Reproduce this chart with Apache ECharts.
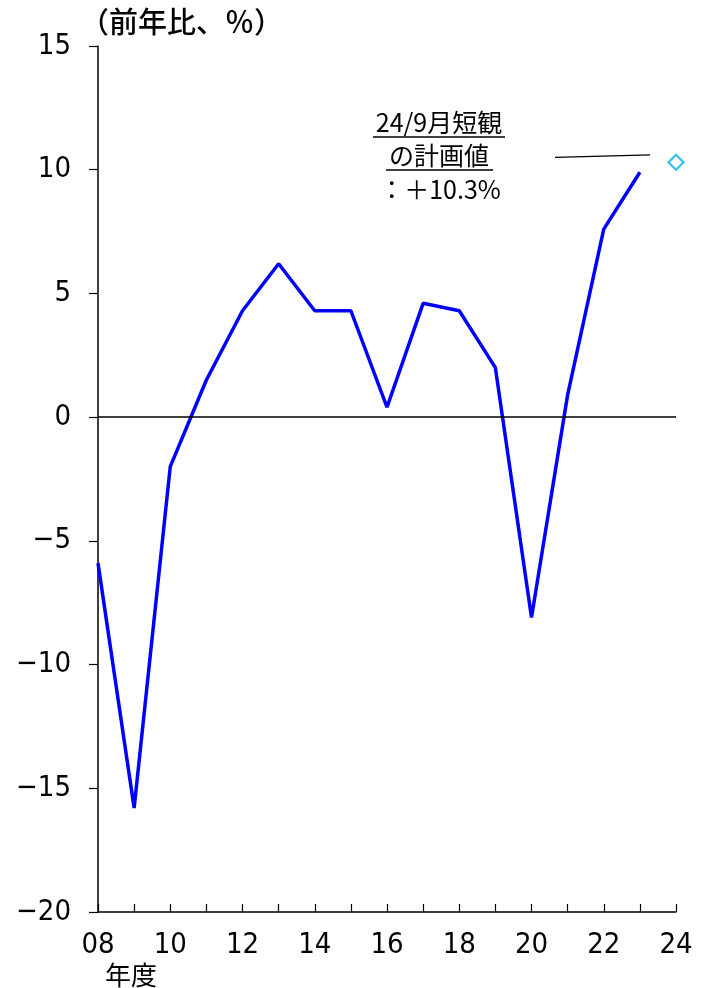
<!DOCTYPE html>
<html><head><meta charset="utf-8">
<script src="https://cdn.jsdelivr.net/npm/echarts@6/dist/echarts.min.js"></script>
<style>html,body{margin:0;padding:0;background:#fff}#c{width:713px;height:988px}</style>
</head><body><div id="c"></div>
<script>
const years = [2008,2009,2010,2011,2012,2013,2014,2015,2016,2017,2018,2019,2020,2021,2022,2023];
const values = [-5.9,-15.8,-2.0,1.5,4.3,6.2,4.3,4.3,0.4,4.6,4.3,2.0,-8.1,0.9,7.6,9.9];
const planYear = 2024;
const planValue = 10.3;
const yTicks = [-20,-15,-10,-5,0,5,10,15];
const xTickLabels = ['08','10','12','14','16','18','20','22','24'];

const numFont = '"Liberation Sans Narrow","DejaVu Sans Condensed",sans-serif';
const jpFont = '"Noto Sans CJK JP",sans-serif';
const chart = echarts.init(document.getElementById('c'));
chart.setOption({
  animation:false,
  grid:{left:98,right:37,top:46,bottom:76},
  xAxis:{type:'value',min:2008,max:2024,interval:1,
    axisLine:{onZero:false,lineStyle:{color:'#000',width:1.5}},
    axisTick:{inside:true,length:8,lineStyle:{color:'#000',width:1.2}},
    splitLine:{show:false},
    axisLabel:{margin:19,fontSize:29,color:'#000',fontFamily:numFont,
      formatter:v=>{const s=String(v%100).padStart(2,'0');return xTickLabels.includes(s)&&v%2===0?s:'';}}
  },
  yAxis:{type:'value',min:-20,max:15,interval:5,
    axisLine:{show:true,onZero:false,lineStyle:{color:'#000',width:1.5}},
    axisTick:{show:true,inside:false,length:9,lineStyle:{color:'#000',width:1.2}},
    splitLine:{show:false},
    axisLabel:{margin:27,fontSize:29,color:'#000',fontFamily:numFont,
      formatter:v=>yTicks.includes(v)?(v<0?'\u2212'+Math.abs(v):String(v)):''}
  },
  series:[
    {type:'line',data:years.map((y,i)=>[y,values[i]]),showSymbol:false,symbol:'none',
      lineStyle:{color:'#0000ff',width:3.5},
      markLine:{silent:true,symbol:'none',label:{show:false},
        lineStyle:{color:'#000',width:1.5,type:'solid'},
        data:[[{coord:[2008,0]},{coord:[2024,0]}]]}},
    {type:'scatter',data:[[planYear,planValue]],symbol:'diamond',symbolSize:[15,15],
      itemStyle:{color:'#fff',borderColor:'#00b0f0',borderWidth:2.2},
      markLine:{silent:true,symbol:'none',label:{show:false},
        lineStyle:{color:'#000',width:1.2,type:'solid'},
        data:[[{coord:[2020.65,10.5]},{coord:[2023.28,10.6]}]]}}
  ],
  graphic:[
    {type:'text',x:80,y:22,style:{text:'（前年比、％）',font:'500 29px '+jpFont,fill:'#000',textVerticalAlign:'middle'}},
    {type:'text',x:105,y:975,style:{text:'年度',font:'26px '+jpFont,fill:'#000',textVerticalAlign:'middle'}},
    {type:'text',x:439,y:122,style:{text:'24/9月短観',font:'25px '+jpFont,fill:'#000',textAlign:'center',textVerticalAlign:'middle'}},
    {type:'line',shape:{x1:373,y1:137,x2:505,y2:137},style:{stroke:'#000',lineWidth:1.3}},
    {type:'text',x:439,y:155,style:{text:'の計画値',font:'25px '+jpFont,fill:'#000',textAlign:'center',textVerticalAlign:'middle'}},
    {type:'line',shape:{x1:386,y1:170,x2:493,y2:170},style:{stroke:'#000',lineWidth:1.3}},
    {type:'text',x:440,y:189,style:{text:'：＋10.3%',font:'25px '+jpFont,fill:'#000',textAlign:'center',textVerticalAlign:'middle'}}
  ]
});
</script></body></html>
